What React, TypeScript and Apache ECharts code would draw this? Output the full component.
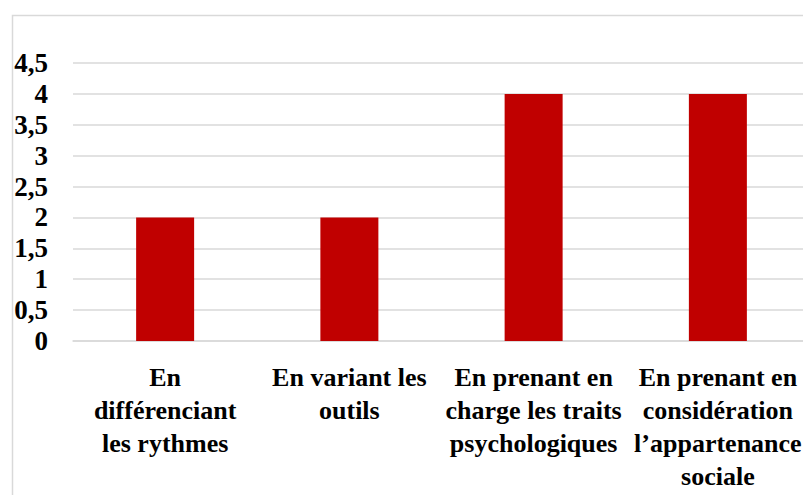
import React, { useEffect, useRef } from "react";
import * as echarts from "echarts";

const categories = [
  "En\ndifférenciant\nles rythmes",
  "En variant les\noutils",
  "En prenant en\ncharge les traits\npsychologiques",
  "En prenant en\nconsidération\nl’appartenance\nsociale",
];
const values = [2, 2, 4, 4];
const yMin = 0;
const yMax = 4.5;
const yInterval = 0.5;

const FONT = "Liberation Serif, Times New Roman, serif";

export default function App() {
  const ref = useRef<HTMLDivElement>(null);
  useEffect(() => {
    if (!ref.current) return;
    const chart = echarts.init(ref.current, undefined, { renderer: "svg" });
    chart.setOption({
      animation: false,
      textStyle: { fontFamily: FONT },
      graphic: [
        {
          type: "rect",
          left: 10,
          top: 13,
          shape: { width: 820, height: 520 },
          style: { fill: "none", stroke: "#d9d9d9", lineWidth: 1.5 },
          silent: true,
          z: -10,
        },
      ],
      grid: { left: 73, top: 63, right: 5, bottom: 154, containLabel: false },
      xAxis: {
        type: "category",
        data: categories,
        axisLine: { show: true, lineStyle: { color: "#d9d9d9", width: 1.5 } },
        axisTick: { show: false },
        axisLabel: {
          interval: 0,
          margin: 20,
          color: "#000",
          fontFamily: FONT,
          fontWeight: "bold",
          fontSize: 26,
          lineHeight: 33,
        },
      },
      yAxis: {
        type: "value",
        min: yMin,
        max: yMax,
        interval: yInterval,
        axisLine: { show: false },
        axisTick: { show: false },
        splitLine: { lineStyle: { color: "#d9d9d9", width: 1.5 } },
        axisLabel: {
          margin: 25,
          color: "#000",
          fontFamily: FONT,
          fontWeight: "bold",
          fontSize: 27,
          formatter: (v: number) => String(v).replace(".", ","),
        },
      },
      series: [
        {
          type: "bar",
          data: values,
          barWidth: 58,
          itemStyle: { color: "#C00000" },
        },
      ],
    });
    return () => chart.dispose();
  }, []);
  return (
    <div style={{ position: "fixed", left: 0, top: 0, width: 803, height: 495, overflow: "hidden", background: "#fff" }}>
      <div ref={ref} style={{ position: "absolute", left: 0, top: 0, width: 815, height: 495 }} />
    </div>
  );
}
